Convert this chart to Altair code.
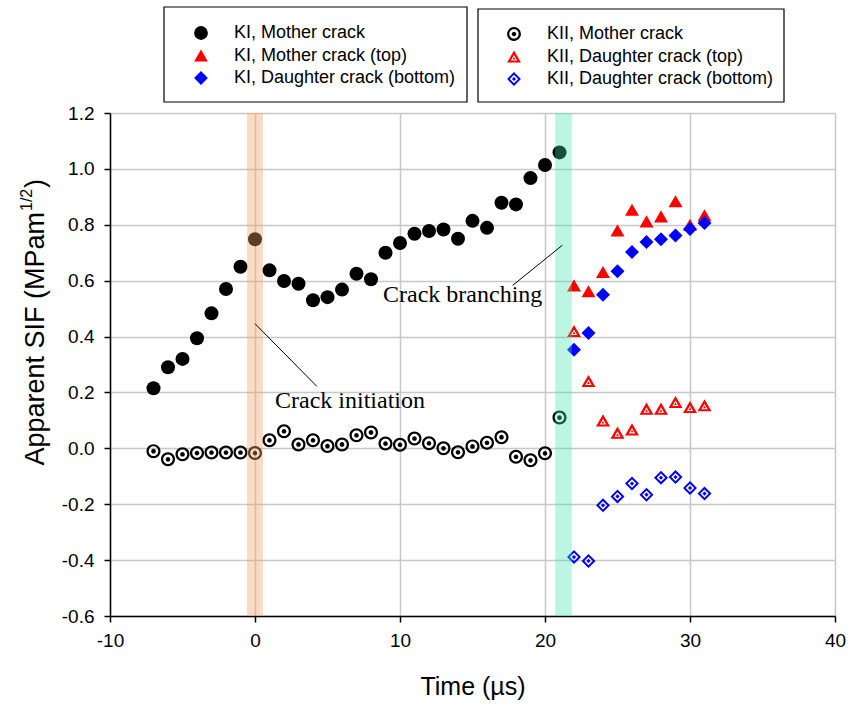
import altair as alt
import pandas as pd

# ---------------- data ----------------
t_mother = list(range(-7, 22))
ki_mother = [0.215, 0.29, 0.32, 0.394, 0.483, 0.57, 0.65, 0.748, 0.637, 0.599,
             0.589, 0.530, 0.541, 0.568, 0.625, 0.605, 0.70, 0.735, 0.768, 0.778,
             0.783, 0.75, 0.814, 0.789, 0.879, 0.873, 0.967, 1.014, 1.059]
kii_mother = [-0.01, -0.039, -0.021, -0.017, -0.015, -0.015, -0.015, -0.017, 0.029, 0.061,
              0.014, 0.029, 0.008, 0.014, 0.047, 0.057, 0.017, 0.013, 0.035, 0.018,
              0.0, -0.014, 0.007, 0.02, 0.04, -0.03, -0.043, -0.018, 0.11]
t_daughter = list(range(22, 32))
ki_top = [0.583, 0.562, 0.631, 0.78, 0.854, 0.812, 0.83, 0.884, 0.80, 0.834]
ki_bottom = [0.353, 0.413, 0.55, 0.634, 0.703, 0.738, 0.748, 0.762, 0.785, 0.806]
kii_top = [0.42, 0.241, 0.10, 0.056, 0.068, 0.142, 0.142, 0.166, 0.148, 0.154]
kii_bottom = [-0.389, -0.403, -0.204, -0.172, -0.126, -0.166, -0.105, -0.103, -0.142, -0.162]

ki_names = ["KI, Mother crack", "KI, Mother crack (top)", "KI, Daughter crack (bottom)"]
kii_names = ["KII, Mother crack", "KII, Daughter crack (top)", "KII, Daughter crack (bottom)"]

band_start = [-0.55, 20.7]
band_end = [0.55, 21.85]

ann_text = ["Crack initiation", "Crack branching"]
ann_tx = [1.38, 8.83]
ann_ty = [0.143, 0.524]
ann_x1 = [0.0, 21.2]
ann_y1 = [0.446, 0.727]
ann_x2 = [4.26, 17.77]
ann_y2 = [0.222, 0.583]

x_ticks = [-10, 0, 10, 20, 30, 40]
y_ticks = [-0.6, -0.4, -0.2, 0.0, 0.2, 0.4, 0.6, 0.8, 1.0, 1.2]

# ---------------- tables ----------------
ki_df = pd.DataFrame({
    "t": t_mother + t_daughter + t_daughter,
    "v": ki_mother + ki_top + ki_bottom,
    "series": [ki_names[0]] * len(t_mother) + [ki_names[1]] * len(t_daughter) + [ki_names[2]] * len(t_daughter),
})
kii_df = pd.DataFrame({
    "t": t_mother + t_daughter + t_daughter,
    "v": kii_mother + kii_top + kii_bottom,
    "series": [kii_names[0]] * len(t_mother) + [kii_names[1]] * len(t_daughter) + [kii_names[2]] * len(t_daughter),
})
band_df = pd.DataFrame({"x0": band_start, "x1": band_end})
ann_df = pd.DataFrame({"t": ann_tx, "v": ann_ty, "label": ann_text})
rule_df = pd.DataFrame({"t": ann_x1, "v": ann_y1, "t2": ann_x2, "v2": ann_y2})

# ---------------- custom marker shapes ----------------
RING = ("M1,0A1,1,0,1,1,-1,0A1,1,0,1,1,1,0Z "
        "M0.68,0A0.68,0.68,0,1,0,-0.68,0A0.68,0.68,0,1,0,0.68,0Z "
        "M0.33,0A0.33,0.33,0,1,1,-0.33,0A0.33,0.33,0,1,1,0.33,0Z")
TRI = ("M0,-0.866L1,0.866L-1,0.866Z "
       "M0,-0.2L-0.45,0.58L0.45,0.58Z "
       "M0,0.08L0.2,0.43L-0.2,0.43Z")
DIA = ("M0,-1L1,0L0,1L-1,0Z "
       "M0,-0.6L-0.6,0L0,0.6L0.6,0Z "
       "M0,-0.3L0.3,0L0,0.3L-0.3,0Z")

FONT = "Liberation Sans"
W, H = 725, 503

xscale = alt.Scale(domain=[-10, 40], nice=False, zero=False)
yscale = alt.Scale(domain=[-0.6, 1.2], nice=False, zero=False)
xaxis = alt.Axis(values=x_ticks, title="Time (µs)", grid=True, labelFlush=False,
                 labelOverlap=False, titlePadding=24,
                 labelExpr="replace(datum.label, '\u2212', '-')")
yaxis = alt.Axis(values=y_ticks, format=".1f", title=None, grid=True, labelFlush=False,
                 labelOverlap=False, labelPadding=10,
                 labelExpr="replace(datum.label, '\u2212', '-')")


def X(f):
    return alt.X(f, type="quantitative", scale=xscale, axis=xaxis)


def Y(f):
    return alt.Y(f, type="quantitative", scale=yscale, axis=yaxis)


def legend(x, y):
    return alt.Legend(orient="none", legendX=x, legendY=y, title=None,
                      labelFont=FONT, labelFontSize=18, labelColor="black",
                      symbolSize=190, rowPadding=4.5, padding=0, labelOffset=24,
                      symbolStrokeWidth=0, labelLimit=400)


ki_layer = alt.Chart(ki_df).mark_point(filled=True, opacity=1, size=196, strokeWidth=0).encode(
    x=X("t"), y=Y("v"),
    color=alt.Color("series:N", scale=alt.Scale(domain=ki_names, range=["#000000", "#ff0000", "#0000ff"]),
                    legend=legend(82, -89)),
    shape=alt.Shape("series:N", scale=alt.Scale(domain=ki_names, range=["circle", "triangle-up", "diamond"]),
                    legend=legend(82, -89)),
)

kii_layer = alt.Chart(kii_df).mark_point(filled=True, opacity=1, size=196, strokeWidth=0).encode(
    x=X("t"), y=Y("v"),
    color=alt.Color("series:N", scale=alt.Scale(domain=kii_names, range=["#000000", "#ff0000", "#0000ff"]),
                    legend=legend(395, -88)),
    shape=alt.Shape("series:N", scale=alt.Scale(domain=kii_names, range=[RING, TRI, DIA]),
                    legend=legend(395, -88)),
)

band1 = alt.Chart(band_df.iloc[[0]]).mark_rect(color="#f4a060", opacity=0.38).encode(
    x=X("x0"), x2="x1", y=alt.value(0), y2=alt.value(H))
band2 = alt.Chart(band_df.iloc[[1]]).mark_rect(color="#40e6b0", opacity=0.35).encode(
    x=X("x0"), x2="x1", y=alt.value(0), y2=alt.value(H))

rules = alt.Chart(rule_df).mark_rule(color="black", strokeWidth=1).encode(
    x=X("t"), y=Y("v"), x2="t2", y2="v2")

ann = alt.Chart(ann_df).mark_text(font="Liberation Serif", fontSize=24, align="left",
                                  baseline="alphabetic", color="black").encode(
    x=X("t"), y=Y("v"), text="label:N")

one = pd.DataFrame({"a": [0]})
ytitle_main = alt.Chart(one).mark_text(text="Apparent SIF (MPam", font=FONT, fontSize=27, angle=270,
                                       align="right", baseline="middle", color="black").encode(
    x=alt.value(-74), y=alt.value(99))
ytitle_sup = alt.Chart(one).mark_text(text="1/2", font=FONT, fontSize=16, angle=270,
                                      align="left", baseline="middle", color="black").encode(
    x=alt.value(-83), y=alt.value(98))
ytitle_end = alt.Chart(one).mark_text(text=")", font=FONT, fontSize=27, angle=270,
                                      align="left", baseline="middle", color="black").encode(
    x=alt.value(-74), y=alt.value(75))

box1 = alt.Chart(one).mark_rect(fill="white", stroke="black", strokeWidth=1.2).encode(
    x=alt.value(54), x2=alt.value(357), y=alt.value(-106), y2=alt.value(-11))
box2 = alt.Chart(one).mark_rect(fill="white", stroke="black", strokeWidth=1.2).encode(
    x=alt.value(368), x2=alt.value(674), y=alt.value(-104), y2=alt.value(-11))

chart = alt.layer(
    ki_layer, kii_layer, band1, band2, rules, ann,
    ytitle_main, ytitle_sup, ytitle_end, box1, box2,
).resolve_scale(
    color="independent", shape="independent"
).properties(
    width=W, height=H,
    padding={"left": 110, "top": 113, "right": 21, "bottom": 88},
    autosize=alt.AutoSizeParams(type="none"),
    background="white",
).configure_view(
    stroke=None
).configure_axis(
    labelFont=FONT, labelFontSize=19, labelColor="black",
    titleFont=FONT, titleFontSize=25, titleFontWeight="normal", titleColor="black",
    gridColor="#c8c8c8", gridWidth=1.5,
    domainColor="black", domainWidth=1.5,
    tickColor="black", tickWidth=1.5, tickSize=6, labelPadding=9,
)

chart.save("out.html", embed_options={"renderer": "svg", "actions": False})
